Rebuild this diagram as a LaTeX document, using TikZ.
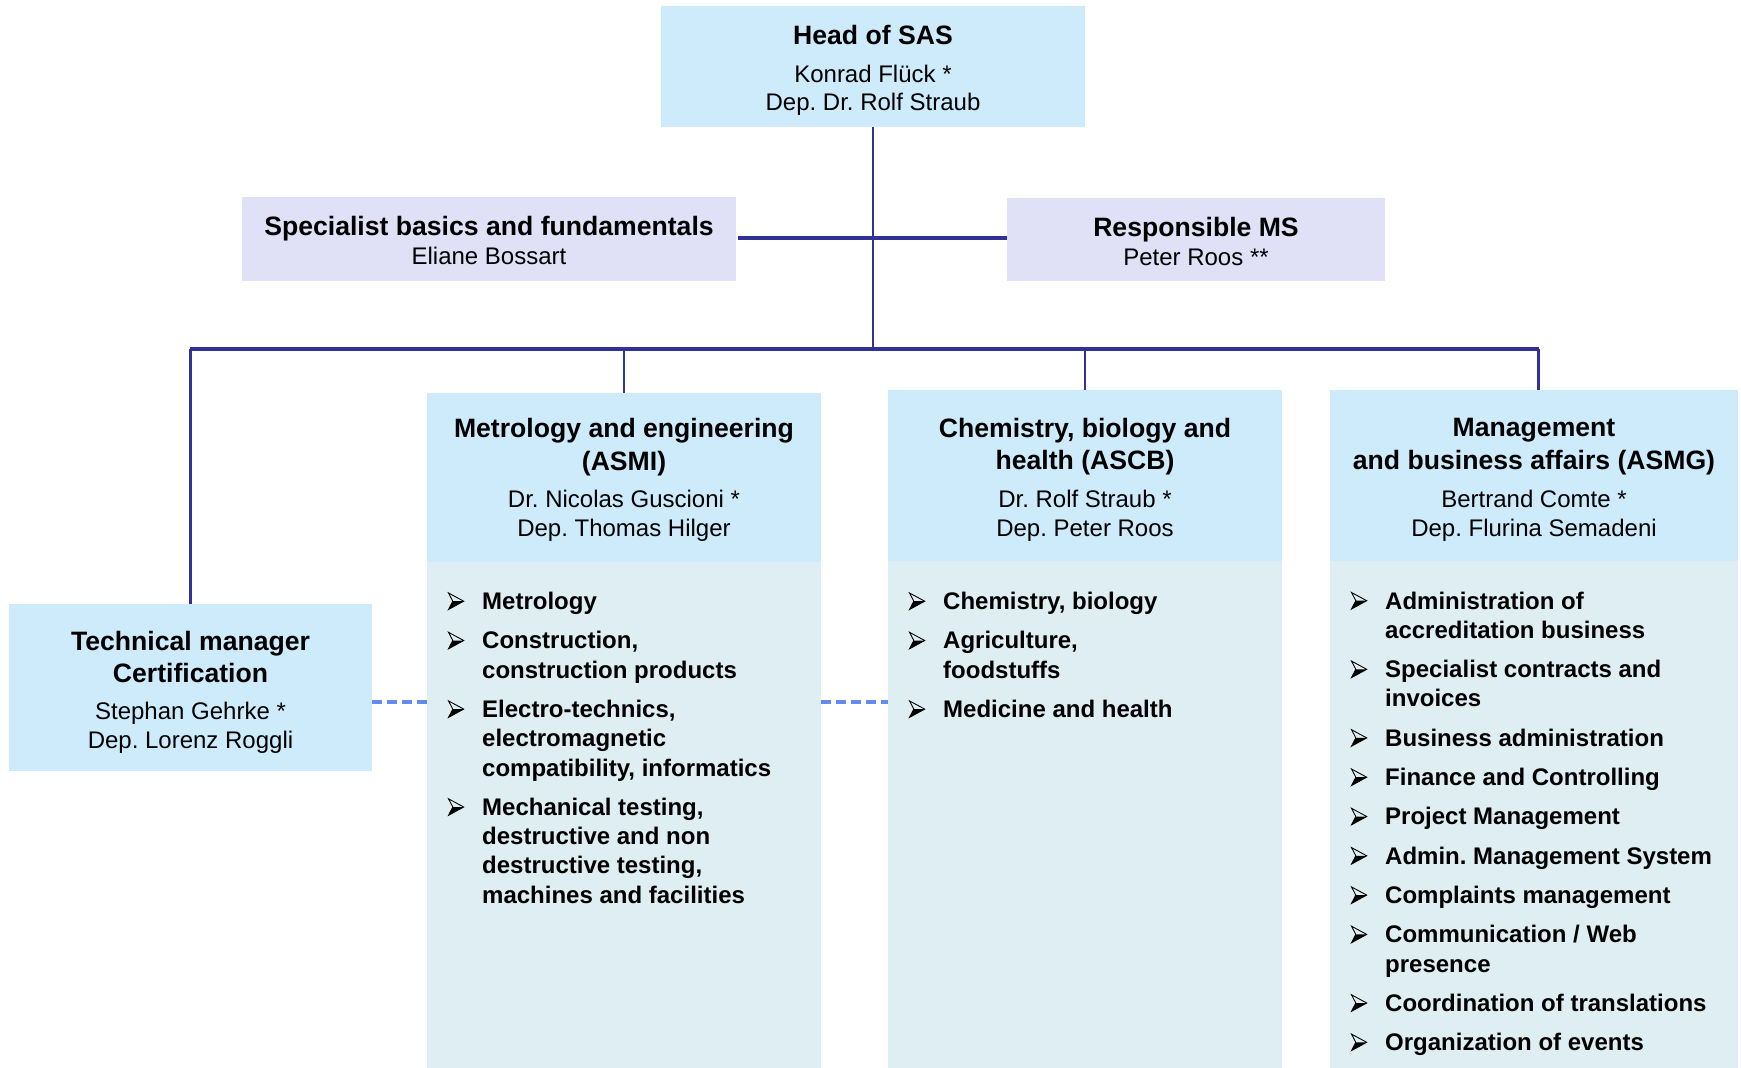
\documentclass[tikz,border=0pt]{standalone}
\usepackage{fontspec}
\setmainfont{Liberation Sans}
\usetikzlibrary{calc}
\definecolor{hdrblue}{RGB}{205,235,251}
\definecolor{lavbox}{RGB}{224,224,246}
\definecolor{bodyc}{RGB}{222,238,242}
\definecolor{linec}{RGB}{50,50,150}
\definecolor{dashc}{RGB}{100,140,240}
\newcommand\itm[1]{\begin{tabular}[t]{@{}l@{}l@{}}\hspace*{35pt}&#1\end{tabular}}
\newcommand\cstack[1]{\begin{tabular}[t]{@{}c@{}}#1\end{tabular}}
\frenchspacing
\begin{document}
\begin{tikzpicture}[x=1pt,y=-1pt,
  orgbox/.style={rectangle, inner sep=0, outer sep=0, draw=none},
  connline/.style={draw=linec, line width=2.3pt},
  busline/.style={draw=linec, line width=3.2pt},
  dashline/.style={draw=dashc, line width=3.2pt, dash pattern=on 10pt off 5pt},
  ttltext/.style={anchor=base, inner sep=0, align=center, font=\fontsize{26.6}{32.5}\selectfont\bfseries},
  nametext/.style={anchor=base, inner sep=0, align=center, font=\fontsize{24}{29}\selectfont},
  itemtext/.style={anchor=base west, inner sep=0, font=\fontsize{24}{29.3}\selectfont\bfseries},
  bularrow/.pic={
    \draw[line width=0.9pt, line join=miter] (0.5,-16.5) -- (15.7,-8.3) -- (0.5,0) -- (4.8,-8.3) -- cycle;
    \fill (0.5,0) -- (15.7,-8.3) -- (4.8,-8.3) -- cycle;
  }]
\useasboundingbox (0,0) rectangle (1741,1068);

% boxes
\node[orgbox, fill=hdrblue, minimum width=424pt, minimum height=121pt] (head) at (873,66.5) {};
\node[orgbox, fill=lavbox, minimum width=494pt, minimum height=84pt] (spec) at (489,239) {};
\node[orgbox, fill=lavbox, minimum width=378pt, minimum height=83pt] (resp) at (1196,239.5) {};
\node[orgbox, fill=hdrblue, minimum width=363pt, minimum height=167pt] (tech) at (190.5,687.5) {};
\node[orgbox, fill=hdrblue, minimum width=394pt, minimum height=169pt] (asmih) at (624,477.5) {};
\node[orgbox, fill=bodyc, minimum width=394pt, minimum height=506pt] (asmib) at (624,815) {};
\node[orgbox, fill=hdrblue, minimum width=394pt, minimum height=171pt] (ascbh) at (1085,475.5) {};
\node[orgbox, fill=bodyc, minimum width=394pt, minimum height=507pt] (ascbb) at (1085,814.5) {};
\node[orgbox, fill=hdrblue, minimum width=408pt, minimum height=171pt] (asmgh) at (1534,475.5) {};
\node[orgbox, fill=bodyc, minimum width=408pt, minimum height=507pt] (asmgb) at (1534,814.5) {};

% connectors
\coordinate (busL) at (190,349);
\coordinate (busR) at (1539,349);
\coordinate (mgtop) at (1538.5,390);
\coordinate (dy) at (0,702);
\coordinate (cy) at (0,238);
\draw[connline] (head.south) -- (head.south |- busL);
\draw[busline] ([xshift=2pt]spec.east |- cy) -- (resp.west |- cy);
\draw[busline] (busL) -- (busR);
\draw[connline] (tech.north) -- (tech.north |- busL);
\draw[connline] (asmih.north) -- (asmih.north |- busL);
\draw[connline] (ascbh.north) -- (ascbh.north |- busL);
\draw[connline] (mgtop) -- (mgtop |- busL);
\draw[dashline] (tech.east |- dy) -- (asmib.west |- dy);
\draw[dashline] (asmib.east |- dy) -- (ascbb.west |- dy);

% texts
\node[ttltext] (headt) at (873,44) {Head of SAS};
\node[nametext, font=\fontsize{24}{28.5}\selectfont] (headn) at (873,82) {\cstack{Konrad Flück *\\Dep. Dr. Rolf Straub}};
\node[ttltext] (spect) at (489,235) {Specialist basics and fundamentals};
\node[nametext] (specn) at (489,264) {Eliane Bossart};
\node[ttltext] (respt) at (1196,236) {Responsible MS};
\node[nametext] (respn) at (1196,265) {Peter Roos **};
\node[ttltext, font=\fontsize{26.6}{32}\selectfont\bfseries] (techt) at (190.5,650) {\cstack{Technical manager\\Certification}};
\node[nametext] (techn) at (190.5,719.5) {\cstack{Stephan Gehrke *\\Dep. Lorenz Roggli}};
\node[ttltext, font=\fontsize{26.6}{32.5}\selectfont\bfseries] (asmit) at (624,437.5) {\cstack{Metrology and engineering\\(ASMI)}};
\node[nametext] (asmin) at (624,507.5) {\cstack{Dr. Nicolas Guscioni *\\Dep. Thomas Hilger}};
\node[ttltext] (ascbt) at (1085,437) {\cstack{Chemistry, biology and\\health (ASCB)}};
\node[nametext] (ascbn) at (1085,507.5) {\cstack{Dr. Rolf Straub *\\Dep. Peter Roos}};
\node[ttltext] (asmgt) at (1534,436.5) {\cstack{Management\\and business affairs (ASMG)}};
\node[nametext] (asmgn) at (1534,507.5) {\cstack{Bertrand Comte *\\Dep. Flurina Semadeni}};

% ASMI items
\node[itemtext] (mi1) at (447,609.5) {\itm{Metrology}};
\node[itemtext] (mi2) at (447,648.8) {\itm{Construction,\\&construction products}};
\node[itemtext] (mi3) at (447,717.4) {\itm{Electro-technics,\\&electromagnetic\\&compatibility, informatics}};
\node[itemtext] (mi4) at (447,815.3) {\itm{Mechanical testing,\\&destructive and non\\&destructive testing,\\&machines and facilities}};

% ASCB items
\node[itemtext] (cb1) at (908,609.5) {\itm{Chemistry, biology}};
\node[itemtext] (cb2) at (908,648.8) {\itm{Agriculture,\\&foodstuffs}};
\node[itemtext] (cb3) at (908,717.4) {\itm{Medicine and health}};

% ASMG items
\node[itemtext] (mg1) at (1350,609) {\itm{Administration of\\&accreditation business}};
\node[itemtext] (mg2) at (1350,677.6) {\itm{Specialist contracts and\\&invoices}};
\node[itemtext] (mg3) at (1350,746.2) {\itm{Business administration}};
\node[itemtext] (mg4) at (1350,785.5) {\itm{Finance and Controlling}};
\node[itemtext] (mg5) at (1350,824.8) {\itm{Project Management}};
\node[itemtext] (mg6) at (1350,864.1) {\itm{Admin. Management System}};
\node[itemtext] (mg7) at (1350,903.4) {\itm{Complaints management}};
\node[itemtext] (mg8) at (1350,942.7) {\itm{Communication / Web\\&presence}};
\node[itemtext] (mg9) at (1350,1011.3) {\itm{Coordination of translations}};
\node[itemtext] (mg10) at (1350,1050.6) {\itm{Organization of events}};

% bullet arrows
\foreach \n in {mi1,mi2,mi3,mi4,cb1,cb2,cb3,mg1,mg2,mg3,mg4,mg5,mg6,mg7,mg8,mg9,mg10}
  \pic at ([xshift=1pt]\n.base west) {bularrow};
\end{tikzpicture}
\end{document}
